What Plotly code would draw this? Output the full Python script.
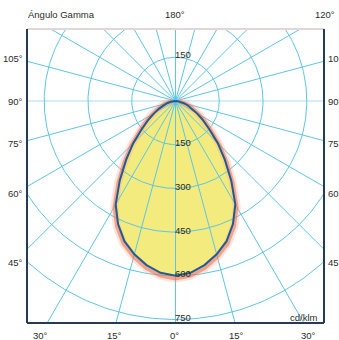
import numpy as np
import plotly.graph_objects as go

# luminous intensity (cd/klm) against gamma angle, symmetric curve
gamma = [0, 5, 10, 15, 20, 25, 30, 35, 40, 45, 50, 55, 60, 65, 70, 75, 80, 85, 90]
intensity = [600, 592, 572, 545, 512, 466, 410, 333, 263, 205, 152, 115, 85, 62, 45, 30, 17, 7, 0]

# polar grid
grid_radii = [150, 300, 450, 600, 750]
ray_angles = list(range(0, 360, 15))
radius_labels = [150, 150, 300, 450, 600, 750]
radius_label_side = [1, -1, -1, -1, -1, -1]

side_labels = ["105°", "90°", "75°", "60°", "45°"]
bottom_labels = ["30°", "15°", "0°", "15°", "30°"]
top_labels = ["180°", "120°"]
title_text = "Ángulo Gamma"
unit_text = "cd/klm"

FONT = dict(family="Liberation Sans, Arial, sans-serif", size=9.5, color="#2b2b2b")
GRID = "#5cc6e6"

g = np.radians(np.array([-a for a in gamma[::-1]] + gamma[1:]))
I = np.array(intensity[::-1] + intensity[1:], dtype=float)
cx = I * np.sin(g)
cy = -I * np.cos(g)
halo_x = (I + 10) * np.sin(g)
halo_y = -(I + 10) * np.cos(g)

fig = go.Figure()

# yellow fill
fig.add_trace(go.Scatter(x=cx, y=cy, mode="lines", fill="toself",
                         fillcolor="#f3eb7d", line=dict(width=0), hoverinfo="skip"))

# grid circles
t = np.linspace(0, 2 * np.pi, 361)
for r in grid_radii:
    fig.add_trace(go.Scatter(x=r * np.cos(t), y=r * np.sin(t), mode="lines",
                             line=dict(color=GRID, width=1), hoverinfo="skip"))

# grid rays
for a in ray_angles:
    ar = np.radians(a)
    col = "rgba(92,198,230,0.55)" if a in (90, 270) else GRID
    fig.add_trace(go.Scatter(x=[0, 1200 * np.sin(ar)], y=[0, -1200 * np.cos(ar)],
                             mode="lines", line=dict(color=col, width=1), hoverinfo="skip"))

# soft reddish glow and outline
fig.add_trace(go.Scatter(x=halo_x, y=halo_y, mode="lines",
                         line=dict(color="rgba(250,165,140,0.3)", width=8), hoverinfo="skip"))
fig.add_trace(go.Scatter(x=halo_x, y=halo_y, mode="lines",
                         line=dict(color="rgba(238,95,60,0.5)", width=3.5), hoverinfo="skip"))
fig.add_trace(go.Scatter(x=cx, y=cy, mode="lines",
                         line=dict(color="#1f5c93", width=2), hoverinfo="skip"))

annotations = []
for lab, s in zip(radius_labels, radius_label_side):
    annotations.append(dict(x=-8, y=s * lab, xref="x", yref="y", text=str(lab),
                            showarrow=False, xanchor="left", yanchor="middle",
                            yshift=3 if s > 0 else 2, font=FONT))

side_y = [0.898, 0.755, 0.612, 0.439, 0.207]
for lab, yy in zip(side_labels, side_y):
    annotations.append(dict(x=-0.007, y=yy, xref="paper", yref="paper", text=lab,
                            showarrow=False, xanchor="right", yanchor="middle", font=FONT))
    annotations.append(dict(x=1.008, y=yy, xref="paper", yref="paper", text=lab,
                            showarrow=False, xanchor="left", yanchor="middle", font=FONT))

bottom_x = [0.047, 0.293, 0.495, 0.707, 0.949]
for lab, xx in zip(bottom_labels, bottom_x):
    annotations.append(dict(x=xx, y=-0.041, xref="paper", yref="paper", text=lab,
                            showarrow=False, xanchor="center", yanchor="middle", font=FONT))

for lab, xx in zip(top_labels, [0.498, 1.003]):
    annotations.append(dict(x=xx, y=1.051, xref="paper", yref="paper", text=lab,
                            showarrow=False, xanchor="center", yanchor="middle", font=FONT))

annotations.append(dict(x=-0.003, y=1.051, xref="paper", yref="paper", text=title_text,
                        showarrow=False, xanchor="left", yanchor="middle", font=FONT))
annotations.append(dict(x=0.985, y=0.02, xref="paper", yref="paper", text=unit_text,
                        showarrow=False, xanchor="right", yanchor="middle", font=FONT))

shapes = [
    dict(type="line", xref="paper", yref="paper", x0=0, x1=1, y0=1, y1=1,
         line=dict(color="#e2d6d6", width=2)),
    dict(type="line", xref="paper", yref="paper", x0=0, x1=0, y0=0, y1=1,
         line=dict(color="#243a57", width=2)),
    dict(type="line", xref="paper", yref="paper", x0=1, x1=1, y0=0, y1=1,
         line=dict(color="#243a57", width=2)),
    dict(type="line", xref="paper", yref="paper", x0=0, x1=1, y0=0, y1=0,
         line=dict(color="#243a57", width=2)),
]

fig.update_layout(
    width=339, height=340,
    margin=dict(l=27, r=15, t=29, b=17),
    paper_bgcolor="white", plot_bgcolor="white",
    showlegend=False,
    xaxis=dict(range=[-509, 509], visible=False, fixedrange=True),
    yaxis=dict(range=[-762, 247], visible=False, fixedrange=True),
    annotations=annotations,
    shapes=shapes,
)

# drop the default page margin so the chart sits at the window corner
fig.write_html("out.html", config={"displayModeBar": False},
               post_script="document.body.style.margin='0';")
